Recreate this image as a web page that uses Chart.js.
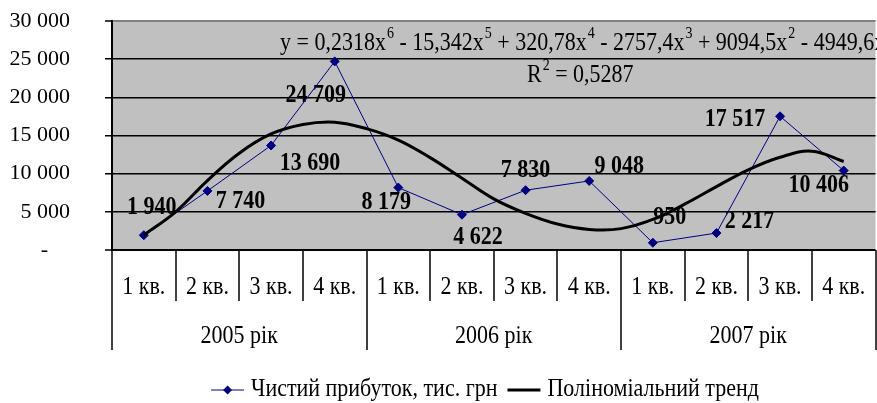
<!DOCTYPE html>
<html>
<head>
<meta charset="utf-8">
<script src="https://cdn.jsdelivr.net/npm/chart.js@4.4.0/dist/chart.umd.min.js"></script>
<style>
  html, body { margin: 0; padding: 0; background: #fff; overflow: hidden; }
  #wrap { width: 881px; height: 403px; }
</style>
</head>
<body>
<div id="wrap"><canvas id="c" width="881" height="403"></canvas></div>
<script>
// Quarterly net profit, thousand UAH, 2005–2007
const years = ['2005 рік', '2006 рік', '2007 рік'];
const quarters = ['1 кв.', '2 кв.', '3 кв.', '4 кв.'];
const profit = [1940, 7740, 13690, 24709, 8179, 4622, 7830, 9048, 950, 2217, 17517, 10406];

// Polynomial trend, sampled every half quarter
const trendX = [0, 0.5, 1, 1.5, 2, 2.5, 3, 3.5, 4, 4.5, 5, 5.5, 6, 6.5, 7, 7.5, 8, 8.5, 9, 9.5, 10, 10.5, 11];
const trendY = [1960, 5000, 9100, 12680, 15200, 16450, 16750, 15900, 14400, 12100, 9400, 6700, 4800, 3400,
                2700, 2800, 4000, 6000, 8300, 10500, 12150, 12950, 11600];

const yTicks = [0, 5000, 10000, 15000, 20000, 25000, 30000];

const seriesName = 'Чистий прибуток, тис. грн';
const trendName = 'Поліноміальний тренд';

// Trend equation pieces: [text, superscript]
const equationParts = [
  ['y = 0,2318x', '6'], [' - 15,342x', '5'], [' + 320,78x', '4'],
  [' - 2757,4x', '3'], [' + 9094,5x', '2'], [' - 4949,6x', '']
];
const rSquaredParts = [['R', '2'], [' = 0,5287', '']];

// Where each value label sits relative to its point (dx, dy in px)
const labelOffsets = [[8, -28], [33, 11], [39, 18], [-19, 34], [-12, 15], [16, 23],
                      [0, -20], [30, -14], [17, -25], [33, -11], [-45, 3], [-25, 15]];

const FONT = "'Liberation Serif', 'Times New Roman', serif";
const SY = 1.12; // glyphs are a little taller than they are wide
const fmt = v => String(v).replace(/\B(?=(\d{3})+(?!\d))/g, ' ');

function tallText(ctx, txt, x, y) {
  ctx.save();
  ctx.translate(x, y);
  ctx.scale(1, SY);
  ctx.fillText(txt, 0, 0);
  ctx.restore();
}

function drawSupText(ctx, parts, x, baseline, size, supSize) {
  for (const [txt, sup] of parts) {
    ctx.font = size + 'px ' + FONT;
    tallText(ctx, txt, x, baseline);
    x += ctx.measureText(txt).width;
    if (sup) {
      ctx.font = supSize + 'px ' + FONT;
      tallText(ctx, sup, x + 1, baseline - 12);
      x += ctx.measureText(sup).width + 1;
    }
  }
}

const decor = {
  id: 'decor',
  beforeDraw(chart) {
    const { ctx, chartArea: a } = chart;
    ctx.save();
    ctx.fillStyle = '#c0c0c0';
    ctx.fillRect(a.left, a.top, a.right - a.left, a.bottom - a.top);
    ctx.restore();
  },
  beforeDatasetsDraw(chart) {
    const ctx = chart.ctx;
    const pts = chart.getDatasetMeta(0).data;
    ctx.save();
    ctx.fillStyle = '#000';
    ctx.font = 'bold 22px ' + FONT;
    ctx.textAlign = 'center';
    ctx.textBaseline = 'middle';
    pts.forEach((p, i) => {
      const [dx, dy] = labelOffsets[i];
      tallText(ctx, fmt(profit[i]), p.x + dx, p.y + dy);
    });
    ctx.restore();
  },
  afterDatasetsDraw(chart) {
    const ctx = chart.ctx;
    ctx.save();
    ctx.fillStyle = '#000';
    ctx.textAlign = 'left';
    ctx.textBaseline = 'alphabetic';
    drawSupText(ctx, equationParts, 280, 50, 22, 14);
    drawSupText(ctx, rSquaredParts, 527, 82, 22, 14);
    ctx.restore();
  },
  afterDraw(chart) {
    const { ctx, chartArea: a } = chart;
    const xs = chart.scales.x;
    ctx.save();
    ctx.strokeStyle = '#000';
    ctx.lineWidth = 1.5;
    const n = years.length * quarters.length;
    // dividers between categories
    for (let i = 0; i <= n; i++) {
      const x = Math.round(xs.getPixelForValue(i - 0.5));
      const isYear = i % quarters.length === 0;
      ctx.beginPath();
      ctx.moveTo(x, a.bottom);
      ctx.lineTo(x, a.bottom + (isYear ? 100 : 51));
      ctx.stroke();
    }
    ctx.fillStyle = '#000';
    ctx.textAlign = 'center';
    ctx.textBaseline = 'middle';
    ctx.font = '22px ' + FONT;
    years.forEach((yr, yi) => {
      quarters.forEach((q, qi) => {
        const idx = yi * quarters.length + qi;
        tallText(ctx, q, xs.getPixelForValue(idx), a.bottom + 38);
      });
      const mid = yi * quarters.length + (quarters.length - 1) / 2;
      tallText(ctx, yr, xs.getPixelForValue(mid), a.bottom + 87);
    });

    // legend
    const ly = 390;
    ctx.textAlign = 'left';
    const w1 = ctx.measureText(seriesName).width;
    const w2 = ctx.measureText(trendName).width;
    const lineLen = 33, gap = 7, sep = 10;
    const total = lineLen + gap + w1 + sep + lineLen + gap + w2;
    let x = 485 - total / 2;
    ctx.strokeStyle = '#000080';
    ctx.lineWidth = 1;
    ctx.beginPath(); ctx.moveTo(x, ly); ctx.lineTo(x + lineLen, ly); ctx.stroke();
    ctx.fillStyle = '#000080';
    const cx = x + lineLen / 2;
    ctx.beginPath();
    ctx.moveTo(cx, ly - 4.5); ctx.lineTo(cx + 4.5, ly); ctx.lineTo(cx, ly + 4.5); ctx.lineTo(cx - 4.5, ly);
    ctx.closePath(); ctx.fill();
    x += lineLen + gap;
    ctx.fillStyle = '#000';
    tallText(ctx, seriesName, x, ly);
    x += w1 + sep;
    ctx.strokeStyle = '#000';
    ctx.lineWidth = 3;
    ctx.beginPath(); ctx.moveTo(x, ly); ctx.lineTo(x + lineLen, ly); ctx.stroke();
    x += lineLen + gap;
    tallText(ctx, trendName, x, ly);
    ctx.restore();
  }
};

new Chart(document.getElementById('c'), {
  type: 'line',
  data: {
    datasets: [
      {
        label: seriesName,
        data: profit.map((v, i) => ({ x: i, y: v })),
        borderColor: '#000080',
        borderWidth: 1,
        pointStyle: 'rectRot',
        pointRadius: 4.5,
        pointBackgroundColor: '#000080',
        pointBorderColor: '#000080',
        pointBorderWidth: 1,
        tension: 0,
        order: 1
      },
      {
        label: trendName,
        data: trendX.map((x, i) => ({ x, y: trendY[i] })),
        borderColor: '#000',
        borderWidth: 3,
        pointRadius: 0,
        tension: 0.4,
        order: 0
      }
    ]
  },
  options: {
    responsive: false,
    animation: false,
    devicePixelRatio: 1,
    layout: { padding: { left: 0, right: 0, top: 21, bottom: 153 } },
    plugins: { legend: { display: false }, tooltip: { enabled: false } },
    scales: {
      x: { type: 'linear', min: -0.5, max: 11.5, display: false },
      y: {
        min: 0, max: 30000,
        afterFit: s => { s.width = 112; s.paddingTop = 0; s.paddingBottom = 0; },
        afterBuildTicks: s => { s.ticks = yTicks.map(v => ({ value: v })); },
        border: { display: true, color: '#000', width: 2 },
        grid: {
          color: c => (c.tick && c.tick.value === 30000 ? '#808080' : '#000'),
          lineWidth: c => (c.tick && (c.tick.value === 0 || c.tick.value === 30000) ? 2 : 1.5),
          tickLength: 7,
          tickColor: '#000',
          tickWidth: 1.5
        },
        ticks: {
          color: '#000',
          padding: 35,
          font: { family: FONT, size: 22 },
          callback: v => (v === 0 ? '-\u2007\u2007' : fmt(v))
        }
      }
    }
  },
  plugins: [decor]
});
</script>
</body>
</html>
